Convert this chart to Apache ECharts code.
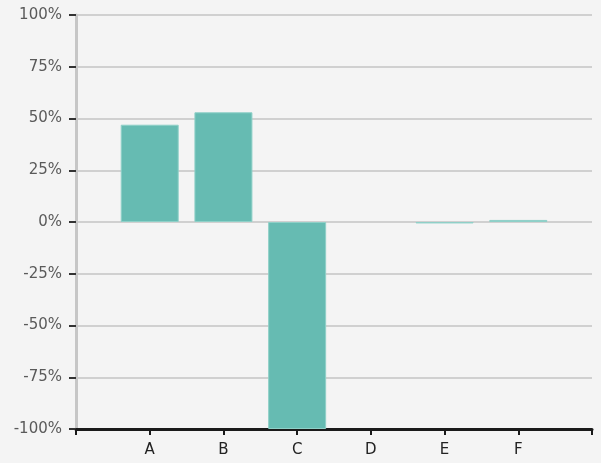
<!DOCTYPE html>
<html><head><meta charset="utf-8">
<script src="https://cdn.jsdelivr.net/npm/echarts@6/dist/echarts.min.js"></script>
<style>html,body{margin:0;padding:0;background:#f4f4f4}#c{width:601px;height:463px}</style>
</head><body><div id="c"></div>
<script>
const categories = ['', 'A', 'B', 'C', 'D', 'E', 'F', ''];
const values = [null, 47, 53, -100, 0, -0.7, 1, null];
const yTicks = { min: -100, max: 100, interval: 25 };

const seriesData = values.map(v => (v === 0 ? { value: v, itemStyle: { borderWidth: 0 } } : v));

const chart = echarts.init(document.getElementById('c'));
chart.setOption({
  backgroundColor: '#f4f4f4',
  animation: false,
  grid: { left: 76, right: 9, top: 15, bottom: 34, containLabel: false },
  xAxis: {
    type: 'category',
    data: categories,
    boundaryGap: false,
    axisLine: { onZero: false, lineStyle: { color: '#1a1a1a', width: 3 } },
    axisTick: { show: true, interval: 0, length: 6, lineStyle: { color: '#1a1a1a', width: 2 } },
    axisLabel: { interval: 0, color: '#222', fontSize: 15, fontFamily: 'DejaVu Sans', margin: 14 },
    splitLine: { show: false }
  },
  yAxis: {
    type: 'value',
    min: yTicks.min, max: yTicks.max, interval: yTicks.interval,
    axisLine: { show: true, lineStyle: { color: '#c6c6c6', width: 3 } },
    axisTick: { show: true, length: 7, lineStyle: { color: '#333', width: 2 } },
    axisLabel: { formatter: '{value}%', color: '#5a5a5a', fontSize: 15, fontFamily: 'DejaVu Sans', margin: 14 },
    splitLine: { lineStyle: { color: '#c4c4c4', width: 1.5 } }
  },
  series: [{
    type: 'bar',
    data: seriesData,
    barWidth: 58,
    itemStyle: { color: '#66bbb2', borderColor: '#8fd0c8', borderWidth: 1 }
  }]
});
</script></body></html>
